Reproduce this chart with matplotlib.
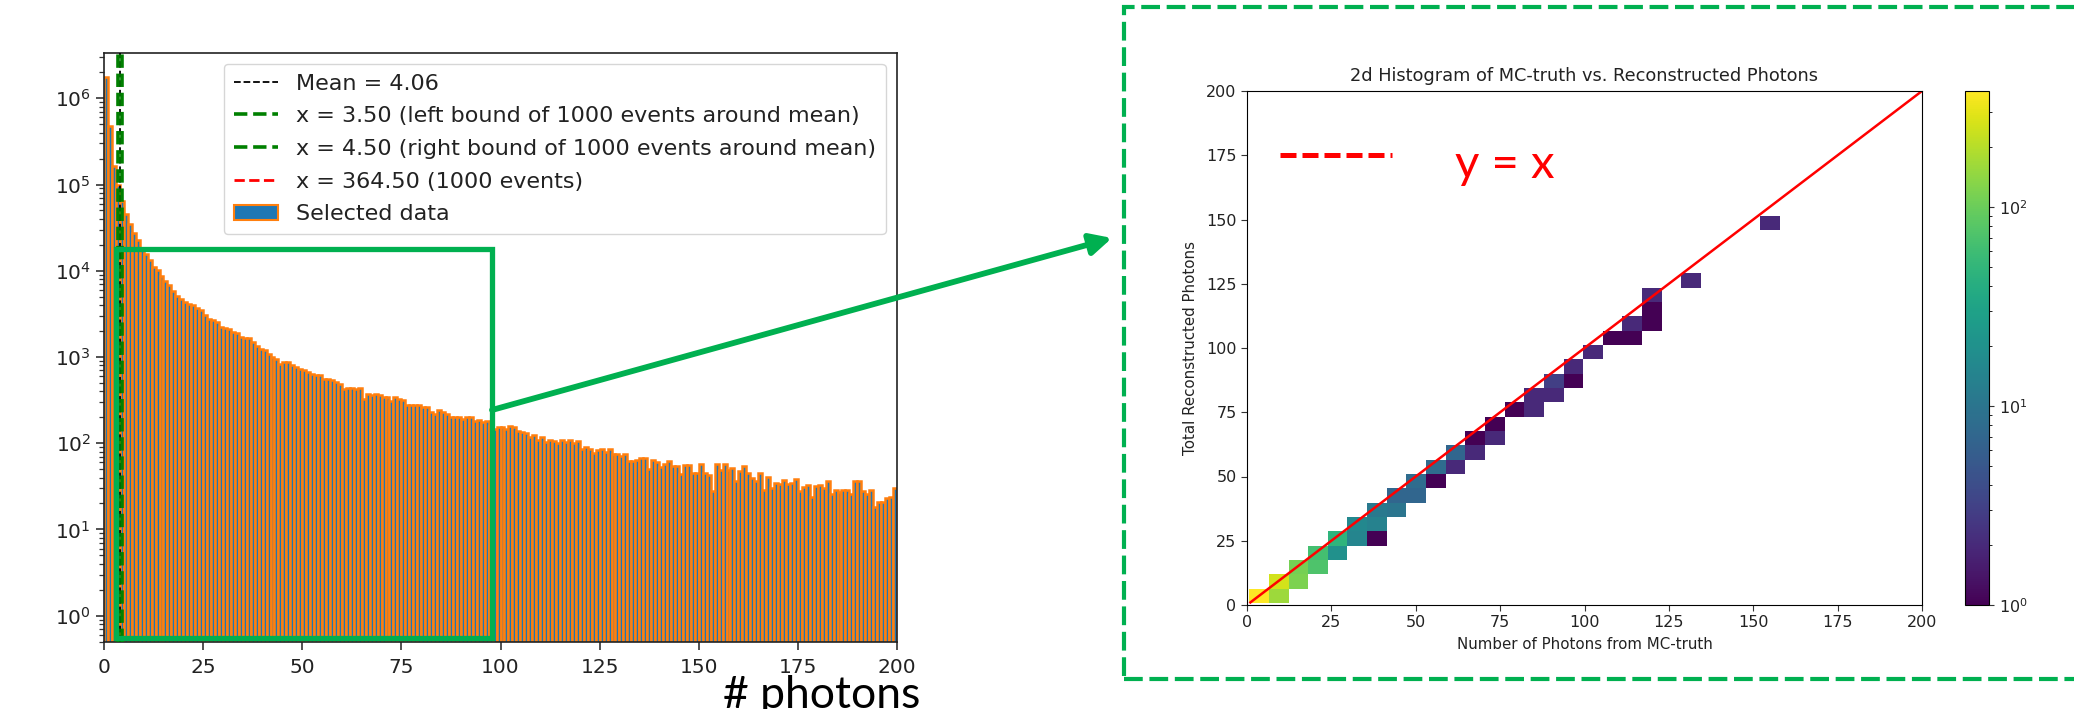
import numpy as np
import matplotlib
matplotlib.use("Agg")
import matplotlib.pyplot as plt
from matplotlib.colors import LogNorm
from matplotlib.patches import Rectangle, FancyArrowPatch
from matplotlib.lines import Line2D
from matplotlib.patches import Patch

# ---------------- data: 1-D photon histogram (counts per integer bin) ----------------
photon_bin_edges = np.arange(0, 201)  # 1-photon bins
photon_counts = [
    1750000, 480000, 166000, 98000, 65000, 46000, 35000, 27300, 22900, 18500,
    15700, 13200, 11000, 10100, 8800, 7700, 6760, 5900, 5160, 4740,
    4330, 4100, 3960, 3700, 3500, 3050, 2780, 2650, 2530, 2220,
    2150, 2120, 1960, 1880, 1720, 1680, 1650, 1490, 1350, 1250,
    1190, 1090, 1000, 955, 830, 870, 870, 800, 760, 730,
    700, 670, 630, 615, 615, 560, 553, 546, 513, 480,
    420, 435, 435, 430, 435, 328, 368, 365, 368, 360,
    346, 340, 310, 346, 323, 320, 278, 280, 276, 278,
    265, 262, 230, 220, 240, 230, 220, 200, 204, 203,
    190, 200, 204, 183, 184, 177, 183, 160, 145, 154,
    154, 145, 157, 154, 137, 136, 130, 118, 124, 108,
    118, 104, 108, 107, 100, 108, 104, 108, 100, 106,
    86, 90, 86, 76, 84, 86, 79, 86, 74, 74,
    72, 74, 63, 63, 64, 67, 67, 50, 64, 60,
    53, 58, 62, 54, 54, 44, 56, 56, 45, 45,
    58, 45, 43, 28, 58, 49, 58, 49, 51, 36,
    48, 54, 45, 39, 36, 45, 29, 41, 30, 35,
    34, 37, 34, 35, 38, 28, 31, 33, 24, 32,
    33, 30, 36, 26, 29, 27, 29, 29, 26, 36,
    36, 28, 26, 29, 18, 21, 21, 23, 24, 30,
]
mean_value = 4.06
left_bound = 3.50
right_bound = 4.50
thousand_events_x = 364.50
y_decades = [1e0, 1e1, 1e2, 1e3, 1e4, 1e5, 1e6]

# ---------------- data: 2-D histogram (MC truth vs reconstructed) ----------------
n_bins_2d = 27
mc_range = (0.68, 157.8)
reco_range = (0.75, 151.3)
mc_bin = [0, 1, 1, 2, 2, 3, 3, 4, 4, 5, 5, 6, 6, 6, 7, 7, 8, 8, 9, 9, 10, 10,
          11, 11, 12, 12, 13, 14, 14, 15, 15, 16, 16, 17, 18, 19, 19, 20, 20, 20, 22, 26]
reco_bin = [0, 0, 1, 1, 2, 2, 3, 3, 4, 4, 5, 4, 5, 6, 6, 7, 7, 8, 8, 9, 9, 10,
            10, 11, 11, 12, 13, 13, 14, 14, 15, 15, 16, 17, 18, 18, 19, 19, 20, 21, 22, 26]
cell_counts = [384, 160, 257, 118, 110, 73, 65, 20, 48, 15, 16, 1, 14, 11, 10, 7, 7, 8, 1, 8, 2, 7,
               2, 1, 2, 1, 1, 2, 2, 2, 3, 1, 2, 2, 1, 1, 2, 1, 1, 2, 2, 2]
line_xy = [1, 200]

W, H = 2074, 709
fig = plt.figure(figsize=(W / 100, H / 100), dpi=100)


def fx(px):
    return px / W


def fy(py):
    return 1 - py / H


# ---------------- left panel ----------------
ax1 = fig.add_axes([fx(104), fy(641.6), fx(897) - fx(104), fy(52.5) - fy(641.6)])
ax1.hist(photon_bin_edges[:-1], bins=photon_bin_edges, weights=photon_counts,
         color="C0", edgecolor="C1", linewidth=1.8, zorder=1)
ax1.axvline(mean_value, color="k", linestyle="--", linewidth=1.3, zorder=3)
ax1.axvline(left_bound, color="g", linestyle="--", linewidth=2.6, zorder=3)
ax1.axvline(right_bound, color="g", linestyle="--", linewidth=2.6, zorder=3)
ax1.axvline(thousand_events_x, color="r", linestyle="--", linewidth=2.0, zorder=3)
ax1.set_yscale("log")
ax1.set_xlim(0, 200)
ax1.set_ylim(0.5, 3.4e6)
ax1.set_yticks(y_decades)
ax1.set_xticks(np.arange(0, 201, 25))
ax1.tick_params(axis="both", which="major", labelsize=14.5, length=6, width=1.2, colors="#333333",
                labelcolor="#222222")
ax1.tick_params(axis="x", which="major", pad=6)
ax1.tick_params(axis="both", which="minor", length=3.5, width=0.9, colors="#333333")
for s in ax1.spines.values():
    s.set_linewidth(1.2)
    s.set_color("#222222")
handles = [
    Line2D([], [], color="k", linestyle="--", linewidth=1.3),
    Line2D([], [], color="g", linestyle="--", linewidth=2.6),
    Line2D([], [], color="g", linestyle="--", linewidth=2.6),
    Line2D([], [], color="r", linestyle="--", linewidth=2.0),
    Patch(facecolor="C0", edgecolor="C1", linewidth=1.5),
]
labels = [
    f"Mean = {mean_value:.2f}",
    f"x = {left_bound:.2f} (left bound of 1000 events around mean)",
    f"x = {right_bound:.2f} (right bound of 1000 events around mean)",
    f"x = {thousand_events_x:.2f} (1000 events)",
    "Selected data",
]
leg = ax1.legend(handles, labels, loc="upper right", fontsize=16, handlelength=2.0,
                 labelspacing=0.57, borderpad=0.45)
for t in leg.get_texts():
    t.set_color("#222222")

# ---------------- right panel ----------------
ax2 = fig.add_axes([fx(1247), fy(605), fx(1922) - fx(1247), fy(91) - fy(605)])
mc_edges = np.linspace(mc_range[0], mc_range[1], n_bins_2d + 1)
reco_edges = np.linspace(reco_range[0], reco_range[1], n_bins_2d + 1)
mc_centres = 0.5 * (mc_edges[:-1] + mc_edges[1:])
reco_centres = 0.5 * (reco_edges[:-1] + reco_edges[1:])
xs = mc_centres[np.array(mc_bin)]
ys = reco_centres[np.array(reco_bin)]
h = ax2.hist2d(xs, ys, bins=[mc_edges, reco_edges], weights=cell_counts,
               norm=LogNorm(vmin=1, vmax=max(cell_counts)), cmap="viridis", cmin=1)
ax2.plot(line_xy, line_xy, color="red", linewidth=1.8)
ax2.set_xlim(0, 200)
ax2.set_ylim(0, 200)
ax2.set_xticks(np.arange(0, 201, 25))
ax2.set_yticks(np.arange(0, 201, 25))
ax2.tick_params(labelsize=11.5, colors="#333333", labelcolor="#222222", length=4)
ax2.set_title("2d Histogram of MC-truth vs. Reconstructed Photons", fontsize=12.8,
              color="#222222", pad=7)
ax2.set_xlabel("Number of Photons from MC-truth", fontsize=10.8, color="#222222", labelpad=5)
ax2.set_ylabel("Total Reconstructed Photons", fontsize=10.8, color="#222222", labelpad=6)

cax = fig.add_axes([fx(1965), fy(605), fx(1989) - fx(1965), fy(91) - fy(605)])
cb = fig.colorbar(h[3], cax=cax)
cax.tick_params(labelsize=11.5, colors="#333333", labelcolor="#222222")

# ---------------- slide annotations ----------------
green = "#00b050"
# zoom rectangle on the left histogram
fig.add_artist(Rectangle((fx(116), fy(638)), fx(492) - fx(116), fy(249) - fy(638),
                         transform=fig.transFigure, fill=False, edgecolor=green,
                         linewidth=3.8, zorder=10))
# arrow to the right panel
fig.add_artist(FancyArrowPatch((fx(492), fy(410)), (fx(1112), fy(238)),
                               transform=fig.transFigure, arrowstyle="-|>",
                               mutation_scale=32, color=green, linewidth=4.2,
                               shrinkA=0, shrinkB=0, zorder=10))
# dashed frame round the right panel
frame = Rectangle((fx(1124), fy(679)), fx(2090) - fx(1124), fy(7) - fy(679),
                  transform=fig.transFigure, fill=False, edgecolor=green,
                  linewidth=3.0, linestyle=(0, (4.5, 1.6)), zorder=10)
fig.add_artist(frame)
# red dashed key + y = x label
fig.add_artist(Line2D([fx(1280), fx(1392)], [fy(155), fy(155)], transform=fig.transFigure,
                      color="#ff0000", linewidth=3.6, linestyle=(0, (3.2, 1.2)), zorder=10))
fig.text(fx(1455), fy(178), "y = x", color="#ff0000", fontsize=34, family="Lato",
         va="baseline", ha="left")
fig.text(fx(723), fy(708), "# photons", color="black", fontsize=32, family="Lato",
         va="baseline", ha="left")

fig.savefig("out.png", dpi=100)
